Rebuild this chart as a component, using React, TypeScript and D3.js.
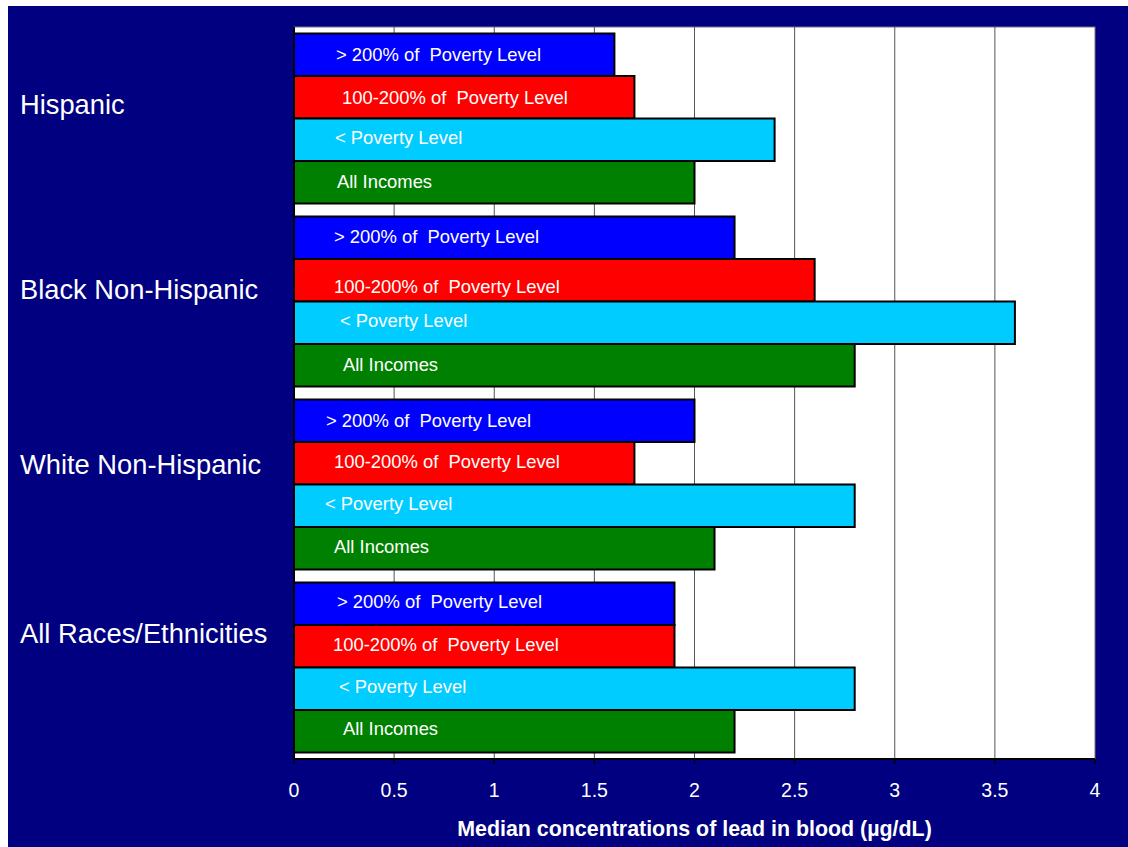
import React from "react";
import * as d3 from "d3";

// Population groups, top to bottom
const groups = ["Hispanic", "Black Non-Hispanic", "White Non-Hispanic", "All Races/Ethnicities"];

// Income series, drawn top to bottom within each group
const seriesNames = [
  "> 200% of  Poverty Level",
  "100-200% of  Poverty Level",
  "< Poverty Level",
  "All Incomes",
];
const seriesColors = ["#0000FF", "#FF0000", "#00CCFF", "#008000"];

// Median blood lead (µg/dL) per group, one array per income series
const above200 = [1.6, 2.2, 2.0, 1.9];
const between100and200 = [1.7, 2.6, 1.7, 1.9];
const belowPoverty = [2.4, 3.6, 2.8, 2.8];
const allIncomes = [2.0, 2.8, 2.1, 2.2];

const xTicks = [0, 0.5, 1, 1.5, 2, 2.5, 3, 3.5, 4];
const xTickLabels = ["0", "0.5", "1", "1.5", "2", "2.5", "3", "3.5", "4"];
const axisTitle = "Median concentrations of lead in blood (µg/dL)";

// Hand-placed nudges of the captions (group rows x series columns)
const groupLabelNudge = [-14, -12, -20, -34];
const barLabelNudgeX = [
  [2, 8, 1, 3],
  [0, 0, 6, 9],
  [-8, 0, -9, 0],
  [3, -1, 5, 9],
];
const barLabelNudgeY = [
  [0, 0, -2, -1],
  [-1, 6, -2, -1],
  [0, -2, -2, -2],
  [-2, -2, -2, -3],
];

const W = 1128;
const H = 847;
const plot = { left: 294, right: 1095, top: 27, bottom: 759 };
const FONT = "'Liberation Sans', Arial, Helvetica, sans-serif";

export default function App() {
  const values = [above200, between100and200, belowPoverty, allIncomes];

  const x = d3.scaleLinear().domain([0, 4]).range([plot.left, plot.right]);
  const yGroup = d3.scaleBand<string>().domain(groups).range([plot.top, plot.bottom]).padding(0);
  const ySeries = d3
    .scaleBand<string>()
    .domain(seriesNames)
    .range([0, yGroup.bandwidth()])
    .paddingInner(0)
    .paddingOuter(0.153);

  return (
    <svg
      width={W}
      height={H}
      style={{ position: "absolute", left: 0, top: 0, display: "block" }}
      fontFamily={FONT}
    >
      <rect x={0} y={0} width={W} height={H} fill="#ffffff" />
      <rect x={8} y={6} width={W - 8} height={H - 6} fill="#000080" />

      {/* plot area */}
      <rect
        x={plot.left}
        y={plot.top}
        width={plot.right - plot.left}
        height={plot.bottom - plot.top}
        fill="#ffffff"
        stroke="#777777"
        strokeWidth={1}
      />

      {/* vertical gridlines */}
      {xTicks.slice(1, -1).map((t) => (
        <line
          key={"g" + t}
          x1={x(t)}
          x2={x(t)}
          y1={plot.top}
          y2={plot.bottom}
          stroke="#555555"
          strokeWidth={1}
        />
      ))}

      {/* bars */}
      {groups.map((g, gi) =>
        seriesNames.map((s, si) => {
          const y0 = (yGroup(g) ?? 0) + (ySeries(s) ?? 0);
          const v = values[si][gi];
          return (
            <g key={g + s}>
              <rect
                x={x(0)}
                y={y0}
                width={x(v) - x(0)}
                height={ySeries.bandwidth()}
                fill={seriesColors[si]}
                stroke="#000000"
                strokeWidth={2}
              />
              <text
                x={x(0) + 40 + barLabelNudgeX[gi][si]}
                y={y0 + ySeries.bandwidth() / 2 + barLabelNudgeY[gi][si]}
                dy="0.35em"
                fill="#ffffff"
                fontSize={18.4}
                style={{ whiteSpace: "pre" }}
              >
                {s}
              </text>
            </g>
          );
        })
      )}

      {/* axes */}
      <line x1={plot.left} x2={plot.left} y1={plot.top} y2={plot.bottom} stroke="#000" strokeWidth={2} />
      <line x1={plot.left} x2={plot.right} y1={plot.bottom} y2={plot.bottom} stroke="#000" strokeWidth={2} />
      {xTicks.map((t, i) => (
        <g key={"t" + t}>
          <line x1={x(t)} x2={x(t)} y1={plot.bottom} y2={plot.bottom + 5} stroke="#000" strokeWidth={1.5} />
          <text x={x(t)} y={797} textAnchor="middle" fill="#ffffff" fontSize={19.5}>
            {xTickLabels[i]}
          </text>
        </g>
      ))}

      <text
        x={(457 + 932) / 2}
        y={836}
        textAnchor="middle"
        fill="#ffffff"
        fontSize={21.4}
        fontWeight="bold"
      >
        {axisTitle}
      </text>

      {/* group captions */}
      {groups.map((g, gi) => (
        <text
          key={"l" + g}
          x={20}
          y={(yGroup(g) ?? 0) + yGroup.bandwidth() / 2 + groupLabelNudge[gi]}
          dy="0.35em"
          fill="#ffffff"
          fontSize={27.3}
        >
          {g}
        </text>
      ))}
    </svg>
  );
}
